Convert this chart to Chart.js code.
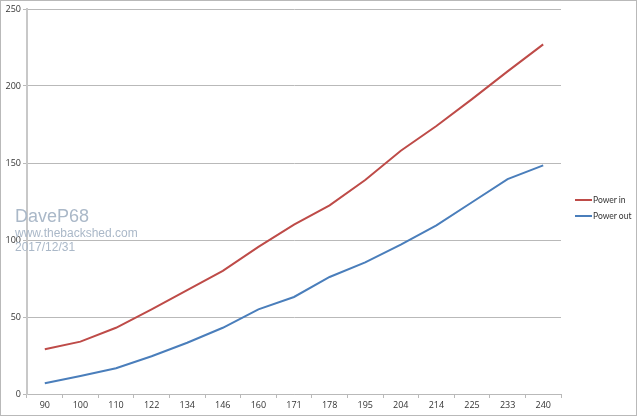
<!DOCTYPE html>
<html>
<head>
<meta charset="utf-8">
<script src="https://cdn.jsdelivr.net/npm/chart.js@4"></script>
<style>
  body { margin: 0; background: #fff; }
  #wrap { position: relative; width: 640px; height: 417px; }
  #frame { position: absolute; left: 0; top: 0; width: 637px; height: 416px; box-sizing: border-box; border: 1px solid #b9b9b9; pointer-events: none; }
  #mark { position: absolute; left: 15px; top: 207px; color: #aab8c8; font-family: "Liberation Sans", Arial, sans-serif; line-height: 1; }
  #mark .big { font-size: 18px; }
  #mark .small { font-size: 12px; margin-top: 2px; }
  #legend { position: absolute; left: 575px; top: 192px; font-family: "Lato", sans-serif; font-size: 8.5px; color: #333; }
  #legend div { height: 16px; display: flex; align-items: center; }
  #legend span.sw { display: inline-block; width: 17px; height: 2px; margin-right: 1px; }
</style>
</head>
<body>
<div id="wrap">
  <canvas id="chart" width="640" height="417"></canvas>
  <div id="mark">
    <div class="big">DaveP68</div>
    <div class="small">www.thebackshed.com</div>
    <div class="small">2017/12/31</div>
  </div>
  <div id="legend"></div>
  <div id="frame"></div>
</div>
<script>
const labels = ["90", "100", "110", "122", "134", "146", "160", "171", "178", "195", "204", "214", "225", "233", "240"];
const powerIn = [29, 34, 43, 55, 67.5, 80, 95.5, 110, 122.5, 139, 158, 174, 191.5, 209.5, 227];
const powerOut = [7, 11.7, 16.7, 24.5, 33.3, 43, 55, 63, 76, 85.5, 97, 109.5, 124.5, 139.5, 148.5];
const seriesNames = ["Power in", "Power out"];
const seriesColors = ["#be4b48", "#4a7ebb"];

const legendBox = document.getElementById("legend");
seriesNames.forEach((name, i) => {
  const row = document.createElement("div");
  row.innerHTML = `<span class="sw" style="background:${seriesColors[i]}"></span>${name}`;
  legendBox.appendChild(row);
});

new Chart(document.getElementById("chart"), {
  type: "line",
  data: {
    labels: labels,
    datasets: [
      { label: seriesNames[0], data: powerIn, borderColor: seriesColors[0], borderWidth: 2, pointRadius: 0, tension: 0, fill: false },
      { label: seriesNames[1], data: powerOut, borderColor: seriesColors[1], borderWidth: 2, pointRadius: 0, tension: 0, fill: false }
    ]
  },
  options: {
    responsive: false,
    animation: false,
    layout: { padding: { top: 9, right: 79, left: 0, bottom: 0 } },
    plugins: { legend: { display: false }, tooltip: { enabled: false } },
    scales: {
      x: {
        offset: true,
        afterFit: s => { s.height = 23; },
        grid: { offset: true, drawOnChartArea: false, drawTicks: true, tickLength: 4, color: "#b9b9b9" },
        border: { color: "#b9b9b9", width: 1 },
        ticks: { color: "#333", font: { family: "Open Sans", size: 9 }, padding: 2, maxRotation: 0, autoSkip: false }
      },
      y: {
        min: 0, max: 250,
        afterFit: s => { s.width = 27; },
        grid: { color: "#b9b9b9", tickLength: 4 },
        border: { color: "#c8c8c8", width: 2 },
        ticks: { stepSize: 50, color: "#333", font: { family: "Open Sans", size: 9 }, padding: 2 }
      }
    }
  }
});
</script>
</body>
</html>
